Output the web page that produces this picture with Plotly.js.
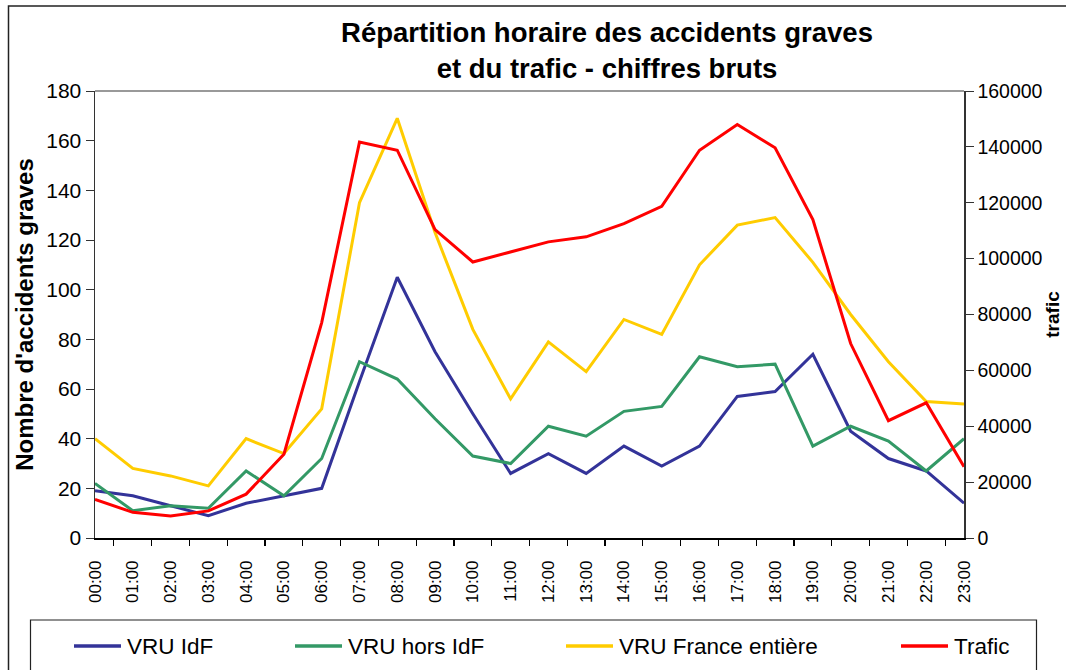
<!DOCTYPE html>
<html>
<head>
<meta charset="utf-8">
<script src="https://cdn.plot.ly/plotly-3.0.1.min.js"></script>
<style>
html,body{margin:0;padding:0;background:#fff;}
#chart{width:1066px;height:670px;}
</style>
</head>
<body>
<div id="chart"></div>
<script>
// ---- data ----
const hours = ["00:00","01:00","02:00","03:00","04:00","05:00","06:00","07:00","08:00","09:00","10:00","11:00",
               "12:00","13:00","14:00","15:00","16:00","17:00","18:00","19:00","20:00","21:00","22:00","23:00"];
const vruIdf     = [19,17,13,9,14,17,20,63,105,75,50,26,34,26,37,29,37,57,59,74,43,32,27,14];
const vruHorsIdf = [22,11,13,12,27,17,32,71,64,48,33,30,45,41,51,53,73,69,70,37,45,39,27,40];
const vruFrance  = [40,28,25,21,40,34,52,135,169,123,84,56,79,67,88,82,110,126,129,111,90,71,55,54];
const trafic     = [13800,9200,7900,9700,15700,30000,77100,141700,138800,110400,98800,102400,
                    106000,107800,112500,118700,138800,148000,139700,114000,69600,42000,48400,25500];
const seriesNames = ["VRU IdF","VRU hors IdF","VRU France entière","Trafic"];
const seriesColors = ["#333399","#339966","#FFCC00","#FF0000"];

const FONT = "Liberation Sans, Arial, sans-serif";

const traces = [
  {x: hours, y: vruIdf, name: seriesNames[0], type: "scatter", mode: "lines",
   line: {color: seriesColors[0], width: 3}},
  {x: hours, y: vruHorsIdf, name: seriesNames[1], type: "scatter", mode: "lines",
   line: {color: seriesColors[1], width: 3}},
  {x: hours, y: vruFrance, name: seriesNames[2], type: "scatter", mode: "lines",
   line: {color: seriesColors[2], width: 3}},
  {x: hours, y: trafic, name: seriesNames[3], type: "scatter", mode: "lines", yaxis: "y2",
   line: {color: seriesColors[3], width: 3}}
];

// manual legend (Excel-style boxed legend below the chart)
const legX = [74, 295, 566, 901];   // pixel starts of legend symbols
const plotL = 95, plotR = 964, plotT = 91, plotB = 538;
const pw = plotR - plotL, ph = plotB - plotT;
const px = v => (v - plotL) / pw;
const py = v => (plotB - v) / ph;

const shapes = [
  // outer chart frame
  {type: "rect", xref: "paper", yref: "paper", x0: px(8.5), x1: px(1100), y0: py(700), y1: py(6),
   line: {color: "#222", width: 1.5}, fillcolor: "rgba(0,0,0,0)", layer: "below"},
  // legend frame
  {type: "rect", xref: "paper", yref: "paper", x0: px(30.5), x1: px(1036.5), y0: py(700), y1: py(620),
   line: {color: "#222", width: 1.2}, fillcolor: "rgba(0,0,0,0)"},
  // top border of plot area (gray)
  {type: "line", xref: "paper", yref: "paper", x0: 0, x1: 1, y0: 1, y1: 1,
   line: {color: "#999", width: 2}}
];
const annotations = [];
for (let i = 0; i < 4; i++) {
  shapes.push({type: "line", xref: "paper", yref: "paper", x0: px(legX[i]), x1: px(legX[i] + 47),
               y0: py(646), y1: py(646), line: {color: seriesColors[i], width: 3.5}});
  annotations.push({xref: "paper", yref: "paper", x: px(legX[i] + 51), y: py(646), xanchor: "left",
                    yanchor: "middle", text: seriesNames[i], showarrow: false,
                    font: {family: FONT, size: 22.5, color: "#000"}});
}

const layout = {
  width: 1066, height: 670,
  paper_bgcolor: "#fff", plot_bgcolor: "#fff",
  margin: {l: plotL, r: 1066 - plotR, t: plotT, b: 670 - plotB, pad: 0},
  showlegend: false,
  font: {family: FONT, color: "#000"},
  title: {text: "<b>Répartition horaire des accidents graves<br>et du trafic - chiffres bruts</b>",
          font: {family: FONT, size: 27.5, color: "#000"},
          x: 607/1066, xanchor: "center", xref: "container",
          y: 1 - 42/670, yanchor: "middle", yref: "container"},
  xaxis: {type: "category", showline: true, linecolor: "#000", linewidth: 1.5,
          ticks: "outside", ticklen: 6, tickcolor: "#000", tickwidth: 1.2, tickson: "boundaries",
          tickangle: -90, ticksuffix: "\u00A0\u00A0\u00A0", tickfont: {family: FONT, size: 17, color: "#000"},
          showgrid: false, zeroline: false, fixedrange: true},
  yaxis: {range: [0, 180], dtick: 20, tick0: 0, showline: true, linecolor: "#333", linewidth: 1.5,
          ticks: "outside", ticklen: 8, tickcolor: "#333", tickfont: {family: FONT, size: 21, color: "#000"},
          showgrid: false, zeroline: false,
          title: {text: "<b>Nombre d'accidents graves</b>", font: {family: FONT, size: 24, color: "#000"}, standoff: 6}},
  yaxis2: {range: [0, 160000], dtick: 20000, tick0: 0, overlaying: "y", side: "right", tickformat: "d",
           showline: true, linecolor: "#333", linewidth: 1.5, ticks: "outside", ticklen: 8, tickcolor: "#333",
           tickfont: {family: FONT, size: 19.5, color: "#000"}, showgrid: false, zeroline: false,
           title: {text: "<b>trafic</b>", font: {family: FONT, size: 19, color: "#000"}, standoff: 4}},
  shapes: shapes,
  annotations: annotations
};

Plotly.newPlot("chart", traces, layout, {displayModeBar: false, staticPlot: true});
</script>
</body>
</html>
